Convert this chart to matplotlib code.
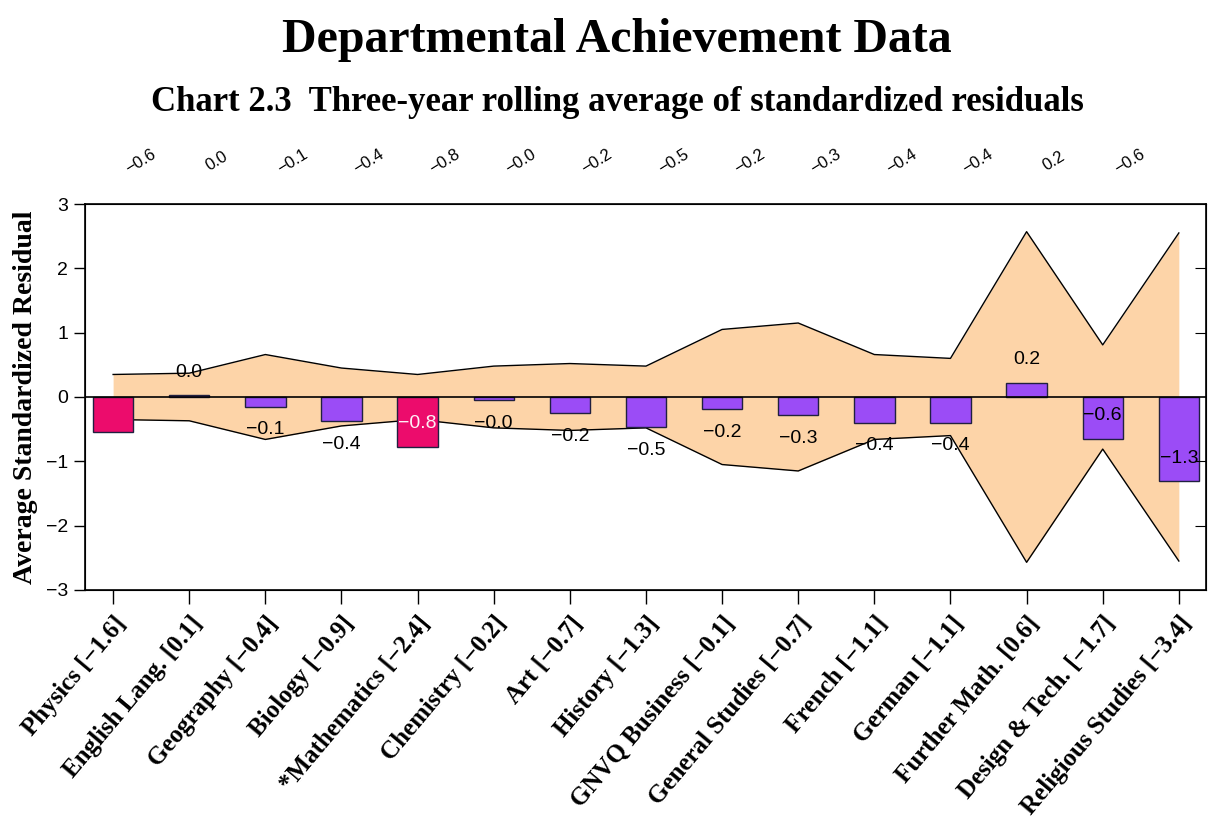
import numpy as np
from matplotlib import pyplot as plt

# Data
subjects = ["Physics", "English Lang.", "Geography", "Biology", "*Mathematics",
            "Chemistry", "Art", "History", "GNVQ Business", "General Studies",
            "French", "German", "Further Math.", "Design & Tech.", "Religious Studies"]
bracket_values = ["\u22121.6", "0.1", "\u22120.4", "\u22120.9", "\u22122.4",
                  "\u22120.2", "\u22120.7", "\u22121.3", "\u22120.1", "\u22120.7",
                  "\u22121.1", "\u22121.1", "0.6", "\u22121.7", "\u22123.4"]
residuals = [-0.55, 0.03, -0.15, -0.38, -0.77, -0.05, -0.25, -0.47,
             -0.19, -0.28, -0.40, -0.40, 0.22, -0.65, -1.31]
value_labels = ["-0.6", "0.0", "-0.1", "-0.4", "-0.8", "-0.0", "-0.2", "-0.5",
                "-0.2", "-0.3", "-0.4", "-0.4", "0.2", "-0.6", "-1.3"]
band_halfwidth = [0.35, 0.37, 0.66, 0.45, 0.35, 0.48, 0.52, 0.48,
                  1.05, 1.15, 0.66, 0.60, 2.57, 0.81, 2.55]
highlighted = ["Physics", "*Mathematics"]

PEACH = "#FDD4A8"
PINK = "#EC0C6C"
PURPLE = "#9B4CF6"


def main():
    fig = plt.figure(figsize=(12.1, 8.32), dpi=100)
    ax = fig.add_axes([0.0702, 0.2909, 0.9267, 0.4639])

    x = np.arange(len(subjects))
    vals = np.array(residuals)
    half = np.array(band_halfwidth)

    # confidence band
    ax.fill_between(x, -half, half, color=PEACH, linewidth=0, zorder=1)
    ax.plot(x, half, color="black", linewidth=1, zorder=2)
    ax.plot(x, -half, color="black", linewidth=1, zorder=2)

    colors = [PINK if s in highlighted else PURPLE for s in subjects]
    ax.bar(x, vals, width=0.53, color=colors, edgecolor="#202040",
           linewidth=1, zorder=3)
    ax.axhline(0, color="black", linewidth=1.2, zorder=4)

    # value labels next to the bars (first one only shown along the top)
    inside = ["*Mathematics", "Design & Tech.", "Religious Studies"]
    for i in range(1, len(subjects)):
        v = vals[i]
        out = 1 if v >= 0 else -1
        if subjects[i] in inside:
            out = -out
        txt = value_labels[i].replace("-", "\u2212")
        col = "#FFF0F6" if subjects[i] == "*Mathematics" else "black"
        ax.annotate(txt, (i, v), xytext=(0, 23 * out), textcoords="offset pixels",
                    ha="center", va="center", fontsize=14, color=col,
                    family="Liberation Sans", zorder=5)

    # small rotated labels above the plot
    for i in range(len(subjects) - 1):
        ax.annotate(value_labels[i].replace("-", "\u2212"), (i + 0.36, 1.11),
                    xycoords=("data", "axes fraction"), ha="center", va="center",
                    rotation=32, fontsize=12, family="Liberation Sans")

    ax.set_xlim(-0.37, 14.36)
    ax.set_ylim(-3, 3)
    ax.set_yticks([-3, -2, -1, 0, 1, 2, 3])
    ax.set_yticklabels(["\u22123", "\u22122", "\u22121", "0", "1", "2", "3"],
                       family="Liberation Sans", fontsize=14)
    ax.set_xticks(x)
    ax.set_xticklabels([f"{s} [{b}]" for s, b in zip(subjects, bracket_values)],
                       rotation=50, ha="right", rotation_mode="anchor",
                       family="Liberation Serif", fontweight="bold", fontsize=18)
    ax.tick_params(axis="x", length=10, width=1, pad=6)
    ax.tick_params(axis="y", length=8, width=1, pad=4)
    for sp in ax.spines.values():
        sp.set_linewidth(1.2)

    ax2 = ax.twinx()
    ax2.set_ylim(-3, 3)
    ax2.set_yticks([-2, -1, 1, 2])
    ax2.tick_params(axis="y", direction="in", length=8, labelright=False)

    ax.set_ylabel("Average Standardized Residual", family="Liberation Serif",
                  fontweight="bold", fontsize=20, labelpad=6)

    fig.text(0.51, 0.952, "Departmental Achievement Data", ha="center", va="center",
             family="Liberation Serif", fontweight="bold", fontsize=34.5)
    fig.text(0.51, 0.877, "Chart 2.3  Three-year rolling average of standardized residuals",
             ha="center", va="center", family="Liberation Serif", fontweight="bold",
             fontsize=25)

    fig.savefig("out.png", dpi=100)


if __name__ == "__main__":
    main()
